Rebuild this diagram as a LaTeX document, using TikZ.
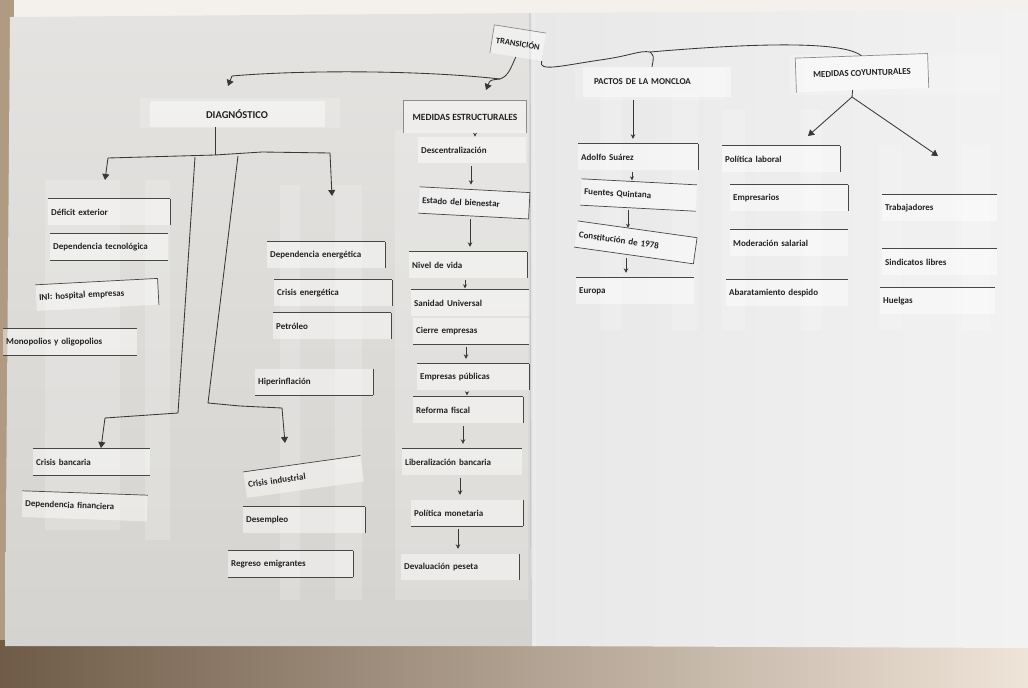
\documentclass[tikz,border=0pt]{standalone}
\usepackage{fontspec}
\setmainfont{Carlito}
\usetikzlibrary{arrows.meta,calc}
\definecolor{ink}{HTML}{222222}
\definecolor{paperL}{HTML}{E4E3E1}
\definecolor{paperLd}{HTML}{D5D3CF}
\definecolor{paperR}{HTML}{E8E8E8}
\definecolor{paperRr}{HTML}{F2F2F2}
\definecolor{topcol}{HTML}{F4F1EC}
\definecolor{edgecol}{HTML}{B09A82}
\definecolor{tabdark}{HTML}{6F5B47}
\definecolor{tablight}{HTML}{EFE4D8}
\tikzset{
  card/.style={anchor=west, font=\fontsize{9}{10.5}\selectfont\bfseries, text=ink,
    fill=white, fill opacity=0.45, text opacity=1, inner xsep=3pt, inner ysep=0pt,
    text width=#1, minimum height=26pt, align=left},
  card/.default=112pt,
  header/.style={font=\fontsize{9.5}{11}\selectfont\bfseries, text=ink,
    fill=white, fill opacity=0.45, text opacity=1, inner ysep=8pt},
  edge/.style={draw=black!72, line width=0.7pt},
  conn/.style={draw=ink!90, line width=0.85pt},
  arr/.style={-{Triangle[width=7pt,length=6pt]}},
  sarr/.style={-{Stealth[width=4pt,length=4pt]}, shorten <=1.5pt, shorten >=1.5pt},
  lsarr/.style={-{Stealth[width=4.5pt,length=4.5pt]}, shorten <=3pt, shorten >=5pt},
  tape/.style={fill=white, fill opacity=0.18}
}
\begin{document}
\begin{tikzpicture}[x=1pt,y=-1pt]
\useasboundingbox (0,0) rectangle (1028,688);
% surroundings
\fill[topcol] (0,0) rectangle (1028,30);
\fill[edgecol] (0,0) rectangle (14,660);
\shade[left color=tabdark, right color=tablight] (0,640) rectangle (1028,688);
% pages
\shade[top color=paperL, bottom color=paperLd] (10,17) -- (530,13) -- (530,646) -- (5,646) -- cycle;
\shade[left color=paperR, right color=paperRr] (530,13) -- (1028,10) -- (1028,648) -- (530,646) -- cycle;
\draw[black!22, line width=1.2pt] (530,13) -- (531,646);
\draw[black!8, line width=3pt] (534,13) -- (535,646);
% tape strips
\fill[tape] (140,98) rectangle (340,128);
\fill[tape] (575,68) rectangle (725,100);
\fill[tape] (790,55) rectangle (1000,95);
\fill[tape] (45,180) rectangle (120,530);
\fill[tape] (145,180) rectangle (170,540);
\fill[tape] (280,185) rectangle (300,600);
\fill[tape] (335,185) rectangle (362,600);
\fill[tape] (395,130) rectangle (528,600);
\fill[tape] (600,95) rectangle (622,330);
\fill[tape] (672,95) rectangle (698,330);
\fill[tape] (722,110) rectangle (745,330);
\fill[tape] (800,110) rectangle (822,330);
\fill[tape] (878,145) rectangle (902,330);
\fill[tape] (962,145) rectangle (990,330);

% headers
\node[header, font=\fontsize{8.5}{10}\selectfont\bfseries, rotate=-9, minimum width=52pt, minimum height=28pt] (transicion) at (518,43) {TRANSICIÓN};
\node[header, font=\fontsize{10.5}{12}\selectfont\bfseries, minimum width=175pt, minimum height=26pt] (diag) at (237,114) {DIAGNÓSTICO};
\node[header, minimum width=122pt, minimum height=32pt] (medest) at (465,117) {MEDIDAS ESTRUCTURALES};
\node[header, font=\fontsize{9}{11}\selectfont\bfseries, minimum width=148pt, minimum height=30pt, text width=126pt, align=left] (pactos) at (657,82) {PACTOS DE LA MONCLOA};
\node[header, font=\fontsize{9}{11}\selectfont\bfseries, rotate=2, minimum width=132pt, minimum height=34pt] (medcoy) at (862,73) {MEDIDAS COYUNTURALES};
\draw[edge, black!45] (medest.south west) -- (medest.north west) -- (medest.north east) -- (medest.south east);
\draw[edge, black!45] (medcoy.south west) -- (medcoy.north west) -- (medcoy.north east) -- (medcoy.south east);
\draw[edge, black!45] (transicion.south west) -- (transicion.north west) -- (transicion.north east);

% diagnostico cards
\node[card=116pt] (defext) at (48,212) {Déficit exterior};
\node[card=112pt] (deptec) at (50,247) {Dependencia tecnológica};
\node[card=116pt, rotate=3] (ini) at (36,298) {INI: hospital empresas};
\node[card=128pt] (mono) at (3,342) {Monopolios y oligopolios};
\node[card=111pt] (crisban) at (33,462) {Crisis bancaria};
\node[card=119pt, rotate=-2] (depfin) at (22,504) {Dependencia financiera};
\node[card=112pt] (depener) at (267,255) {Dependencia energética};
\node[card=112pt] (crisener) at (274,293) {Crisis energética};
\node[card=112pt] (petroleo) at (273,326) {Petróleo};
\node[card=112pt] (hiper) at (255,382) {Hiperinflación};
\node[card=112pt, rotate=8] (crisind) at (245,485) {Crisis industrial};
\node[card=116pt] (desempleo) at (243,520) {Desempleo};
\node[card=119pt] (regreso) at (228,564) {Regreso emigrantes};

% estructurales cards
\node[card=102pt] (descent) at (418,150) {Descentralización};
\node[card=104pt, rotate=-3] (estado) at (419,200) {Estado del bienestar};
\node[card=112pt] (nivel) at (409,265) {Nivel de vida};
\node[card=112pt] (sanidad) at (411,303) {Sanidad Universal};
\node[card=110pt] (cierre) at (413,331) {Cierre empresas};
\node[card=106pt] (emppub) at (417,377) {Empresas públicas};
\node[card=104pt] (reforma) at (413,410) {Reforma fiscal};
\node[card=114pt] (liberal) at (402,462) {Liberalización bancaria};
\node[card=106pt] (politmon) at (411,513) {Política monetaria};
\node[card=112pt] (devalua) at (401,567) {Devaluación peseta};

% pactos cards
\node[card=114pt] (adolfo) at (578,157) {Adolfo Suárez};
\node[card=109pt, rotate=-3] (fuentes) at (581,192) {Fuentes Quintana};
\node[card=114pt, rotate=-8] (constit) at (576,234) {Constitución de 1978};
\node[card=112pt] (europa) at (576,291) {Europa};

% coyunturales cards
\node[card=112pt] (polilab) at (722,159) {Política laboral};
\node[card=112pt] (empres) at (730,198) {Empresarios};
\node[card=112pt] (moder) at (730,243) {Moderación salarial};
\node[card=116pt] (abarat) at (726,293) {Abaratamiento despido};
\node[card=109pt] (trabaj) at (882,208) {Trabajadores};
\node[card=109pt] (sindic) at (882,262) {Sindicatos libres};
\node[card=109pt] (huelgas) at (880,301) {Huelgas};

% paper edges of the cards
\foreach \n in {defext,deptec,ini,mono,crisban,depfin,depener,crisener,petroleo,crisind,desempleo,regreso,
  estado,nivel,sanidad,emppub,reforma,liberal,adolfo,fuentes,constit,europa,polilab,empres,moder,abarat,trabaj,sindic,huelgas}
  \draw[edge] (\n.north west) -- (\n.north east);
\foreach \n in {deptec,mono,crisban,estado,cierre,politmon,hiper,regreso,fuentes,constit}
  \draw[edge] (\n.south west) -- (\n.south east);
\foreach \n in {defext,ini,depener,crisener,petroleo,hiper,desempleo,regreso,estado,nivel,emppub,reforma,politmon,devalua,adolfo,constit,polilab,empres}
  \draw[edge] (\n.north east) -- (\n.south east);

% transicion connectors
\coordinate (diagin) at (228,86);
\coordinate (medestin) at (486,90);
\coordinate (fork) at (650,52);
\draw[conn] (transicion.south) .. controls (510,70) and (508,76) .. (500,79)
  .. controls (420,70) and (300,70) .. (232,76);
\draw[conn,arr] (232,76) -- (diagin);
\draw[conn,arr] (500,79) .. controls (490,80) .. (medestin);
\draw[conn] (transicion.south east) .. controls (538,72) and (560,66) .. (600,60)
  .. controls (630,56) and (640,50) .. (fork)
  .. controls (720,46) and (840,38) .. (medcoy.north);
\draw[conn] (fork) .. controls (654,56) .. (pactos.north -| 652,0);

% diagnostico connectors
\coordinate (dj) at (215,155);
\coordinate (a1) at (105,180);
\coordinate (a2) at (332,196);
\coordinate (a3) at (101,448);
\coordinate (a4) at (285,443);
\draw[conn] ([xshift=-22pt]diag.south) -- (dj);
\draw[conn,arr] (dj) -- (108,158) -- (a1);
\draw[conn,arr] (dj) -- (262,152) -- (330,153) -- (a2);
\draw[conn,arr] (195,157) -- (178,413) -- (105,418) -- (a3);
\draw[conn,arr] (238,156) -- (208,403) -- (240,406) -- (282,408) -- (a4);

% estructurales small arrows
\draw[conn,sarr] (medest.south -| 475,0) -- ++(0,5);
\draw[conn,lsarr] (descent.south -| 471,0) -- (estado.north -| 471,0);
\draw[conn,lsarr] (estado.south -| 470,0) -- (nivel.north -| 470,0);
\draw[conn,sarr] (nivel.south -| 465,0) -- (sanidad.north -| 465,0);
\draw[conn,lsarr] (cierre.south -| 466,0) -- (emppub.north -| 466,0);
\draw[conn,sarr] (emppub.south -| 467,0) -- (reforma.north -| 467,0);
\draw[conn,lsarr] (reforma.south -| 463,0) -- (liberal.north -| 463,0);
\draw[conn,lsarr] (liberal.south -| 460,0) -- (politmon.north -| 460,0);
\draw[conn,lsarr] (politmon.south -| 458,0) -- (devalua.north -| 458,0);

% pactos arrows
\draw[conn,lsarr] (pactos.south -| 633,0) -- (adolfo.north -| 633,0);
\draw[conn,sarr] (adolfo.south -| 632,0) -- (fuentes.north -| 632,0);
\draw[conn,sarr] (fuentes.south -| 628,0) -- (constit.north -| 628,0);
\draw[conn,lsarr] (constit.south -| 626,0) -- (europa.north -| 626,0);

% coyunturales arrows
\coordinate (cl) at (808,136);
\coordinate (cr) at (938,156);
\coordinate (capex) at (852,97);
\draw[conn] ([xshift=-10pt]medcoy.south) -- (capex);
\draw[conn,arr] (capex) -- (cl);
\draw[conn,arr] (capex) -- (cr);
\end{tikzpicture}
\end{document}
